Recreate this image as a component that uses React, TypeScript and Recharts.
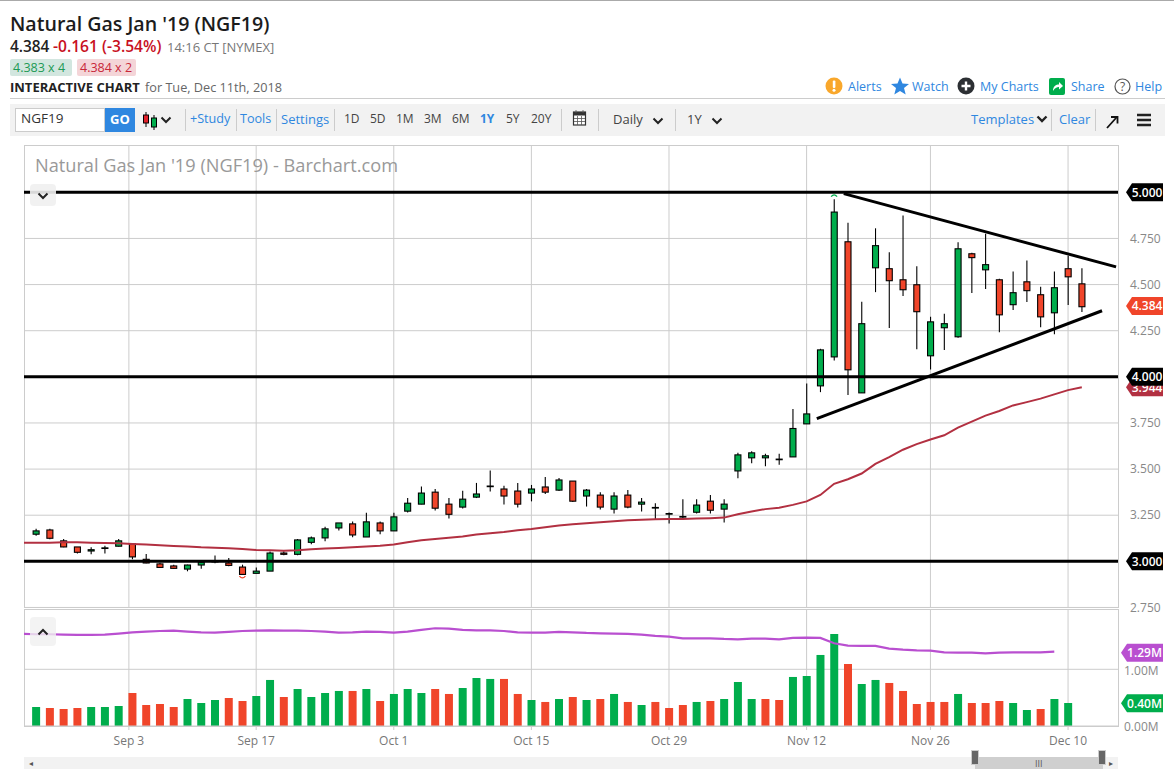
import React from 'react';
import {
  ComposedChart, Bar, Line, XAxis, YAxis, CartesianGrid, Cell, ReferenceLine, ReferenceDot,
} from 'recharts';

// bar index 0 is the first visible session, Dec 11 is index 76
const opens = [
  3.147, 3.170, 3.111, 3.078, 3.056, 3.072, 3.082, 3.094, 3.011, 2.986, 2.975, 2.958, 2.980, 3.000, 2.991, 2.969,
  2.935, 2.947, 3.045, 3.038, 3.103, 3.127, 3.181, 3.203, 3.132, 3.208, 3.165, 3.272, 3.310, 3.375, 3.310, 3.294,
  3.348, 3.408, 3.392, 3.381, 3.370, 3.403, 3.386, 3.435, 3.354, 3.359, 3.283, 3.359, 3.310, 3.292, 3.259, 3.243,
  3.266, 3.326, 3.283, 3.490, 3.561, 3.561, 3.554, 3.566, 3.745, 3.951, 4.108, 4.732, 3.913, 4.591, 4.586, 4.526,
  4.499, 4.114, 4.266, 4.217, 4.667, 4.580, 4.526, 4.391, 4.515, 4.445, 4.347, 4.586, 4.504,
];
const highs = [
  3.176, 3.176, 3.121, 3.078, 3.076, 3.085, 3.121, 3.100, 3.040, 2.993, 2.982, 2.982, 3.000, 3.031, 3.018, 2.982,
  2.966, 3.053, 3.054, 3.121, 3.134, 3.188, 3.208, 3.216, 3.264, 3.216, 3.264, 3.343, 3.405, 3.392, 3.343, 3.383,
  3.425, 3.492, 3.410, 3.425, 3.414, 3.457, 3.452, 3.435, 3.392, 3.375, 3.375, 3.386, 3.343, 3.315, 3.265, 3.337,
  3.337, 3.359, 3.337, 3.588, 3.597, 3.583, 3.583, 3.826, 3.964, 4.152, 4.962, 4.835, 4.407, 4.805, 4.675, 4.875,
  4.599, 4.325, 4.342, 4.729, 4.673, 4.776, 4.532, 4.571, 4.631, 4.488, 4.571, 4.656, 4.588,
];
const lows = [
  3.139, 3.120, 3.076, 3.043, 3.038, 3.043, 3.080, 3.011, 2.989, 2.966, 2.960, 2.946, 2.960, 2.989, 2.973, 2.929,
  2.935, 2.947, 3.033, 3.033, 3.092, 3.109, 3.167, 3.130, 3.132, 3.147, 3.165, 3.265, 3.310, 3.275, 3.232, 3.286,
  3.343, 3.379, 3.308, 3.292, 3.325, 3.365, 3.381, 3.321, 3.297, 3.281, 3.259, 3.288, 3.270, 3.228, 3.205, 3.228,
  3.259, 3.259, 3.210, 3.450, 3.532, 3.515, 3.523, 3.566, 3.745, 3.917, 4.089, 3.901, 3.913, 4.459, 4.264, 4.438,
  4.150, 4.040, 4.145, 4.212, 4.454, 4.476, 4.242, 4.362, 4.405, 4.269, 4.231, 4.389, 4.351,
];
const closes = [
  3.165, 3.125, 3.078, 3.049, 3.063, 3.073, 3.111, 3.024, 2.991, 2.967, 2.962, 2.980, 2.995, 3.000, 2.978, 2.929,
  2.947, 3.045, 3.038, 3.116, 3.127, 3.176, 3.208, 3.143, 3.214, 3.165, 3.241, 3.315, 3.370, 3.288, 3.255, 3.337,
  3.365, 3.408, 3.354, 3.310, 3.392, 3.375, 3.441, 3.326, 3.386, 3.294, 3.354, 3.294, 3.321, 3.292, 3.259, 3.243,
  3.305, 3.277, 3.310, 3.577, 3.588, 3.572, 3.554, 3.720, 3.799, 4.146, 4.893, 4.038, 4.288, 4.711, 4.521, 4.472,
  4.353, 4.298, 4.288, 4.694, 4.646, 4.608, 4.336, 4.456, 4.467, 4.325, 4.483, 4.542, 4.380,
];
// moving averages start one session before the first bar, at the left edge
const priceAverage = [
  3.100, 3.101, 3.101, 3.103, 3.103, 3.101, 3.100, 3.098, 3.094, 3.091, 3.087, 3.083, 3.080, 3.076, 3.074, 3.071,
  3.067, 3.062, 3.060, 3.058, 3.060, 3.065, 3.069, 3.072, 3.076, 3.080, 3.084, 3.091, 3.103, 3.114, 3.121, 3.128,
  3.135, 3.145, 3.152, 3.159, 3.168, 3.175, 3.185, 3.194, 3.201, 3.206, 3.212, 3.217, 3.223, 3.225, 3.228, 3.230,
  3.230, 3.232, 3.234, 3.237, 3.255, 3.270, 3.283, 3.290, 3.306, 3.325, 3.360, 3.420, 3.445, 3.476, 3.528, 3.565,
  3.605, 3.635, 3.660, 3.683, 3.725, 3.757, 3.790, 3.815, 3.845, 3.863, 3.882, 3.905, 3.928, 3.944,
];
const volumes = [
  0.335, 0.318, 0.300, 0.318, 0.335, 0.335, 0.353, 0.582, 0.370, 0.388, 0.335, 0.476, 0.406, 0.459, 0.494, 0.441,
  0.529, 0.812, 0.512, 0.653, 0.512, 0.582, 0.618, 0.618, 0.653, 0.441, 0.565, 0.653, 0.582, 0.653, 0.565, 0.670,
  0.847, 0.830, 0.830, 0.565, 0.459, 0.424, 0.476, 0.512, 0.459, 0.476, 0.565, 0.424, 0.370, 0.424, 0.318, 0.370,
  0.424, 0.441, 0.476, 0.776, 0.476, 0.476, 0.459, 0.865, 0.882, 1.253, 1.624, 1.094, 0.741, 0.812, 0.759, 0.618,
  0.388, 0.424, 0.424, 0.565, 0.406, 0.406, 0.441, 0.406, 0.282, 0.300, 0.476, 0.406,
];
const volumeUp = [
  1, 0, 0, 0, 1, 1, 1, 0, 0, 0, 0, 1, 1, 1, 0, 0, 1, 1, 0, 1, 1, 1, 1, 0, 1, 0, 1, 1, 1, 0, 0, 1,
  1, 1, 0, 0, 1, 0, 1, 0, 1, 0, 1, 0, 1, 0, 0, 0, 1, 0, 1, 1, 1, 0, 0, 1, 1, 1, 1, 0, 1, 1, 0, 0,
  0, 0, 0, 1, 0, 0, 0, 1, 1, 0, 1, 1,
];
const volumeAverage = [
  1.624, 1.618, 1.618, 1.612, 1.606, 1.606, 1.612, 1.630, 1.653, 1.665, 1.676, 1.682, 1.665, 1.653, 1.647, 1.659,
  1.676, 1.682, 1.688, 1.682, 1.682, 1.676, 1.665, 1.647, 1.653, 1.665, 1.659, 1.647, 1.665, 1.694, 1.724, 1.718,
  1.694, 1.688, 1.688, 1.676, 1.653, 1.647, 1.647, 1.659, 1.653, 1.641, 1.635, 1.629, 1.624, 1.612, 1.588, 1.576,
  1.547, 1.547, 1.547, 1.535, 1.529, 1.541, 1.541, 1.529, 1.553, 1.559, 1.553, 1.459, 1.418, 1.412, 1.412, 1.365,
  1.347, 1.335, 1.329, 1.300, 1.294, 1.294, 1.282, 1.294, 1.300, 1.300, 1.300, 1.312,
];

const dateTicks = [6.75, 16, 26, 36, 46, 56, 65, 75];
const dateLabels = ['Sep 3', 'Sep 17', 'Oct 1', 'Oct 15', 'Oct 29', 'Nov 12', 'Nov 26', 'Dec 10'];
const priceTicks = [2.75, 3.25, 3.5, 3.75, 4.25, 4.5, 4.75];
const priceGrid = [2.75, 3, 3.25, 3.5, 3.75, 4, 4.25, 4.5, 4.75, 5];
const supportLevels = [5, 4, 3];
const upperTrend = [{ x: 58.7, y: 4.993 }, { x: 78.49, y: 4.596 }];
const lowerTrend = [{ x: 56.74, y: 3.773 }, { x: 77.47, y: 4.358 }];
const lastPrice = 4.384;
const lastAverage = 3.944;
const lastVolumeAverage = 1.29;
const lastVolume = 0.4;
const xDomain = [-0.872, 78.63];

const FONT = '"Open Sans", sans-serif';
const GREEN = '#00ad4c';
const RED = '#f0452a';
const GRID = '#cccccc';
const BLUE = '#2f87e0';

const priceRows = priceAverage.map((average, i) => {
  const idx = i - 1;
  return {
    idx, average,
    range: idx >= 0 ? [lows[idx], highs[idx]] : null,
    open: opens[idx], close: closes[idx], high: highs[idx], low: lows[idx],
  };
});

const volumeRows = volumeAverage.map((average, i) => ({
  idx: i - 1,
  average,
  volume: i > 0 ? volumes[i - 1] : null,
})).concat([{ idx: 75, average: null as any, volume: volumes[75] }]);

function Candle(props: any) {
  const { x, y, width, height, payload } = props;
  if (!payload || payload.high == null) return null;
  const { open, close, high, low } = payload;
  const at = (v: number) => y + ((high - v) / (high - low)) * height;
  const cx = x + width / 2;
  const top = at(Math.max(open, close));
  const bottom = at(Math.min(open, close));
  return (
    <g>
      <line x1={cx} x2={cx} y1={y} y2={y + height} stroke="#000" strokeWidth={1.1} />
      <rect x={x} y={top} width={width} height={Math.max(bottom - top, 0.6)}
        fill={close >= open ? GREEN : RED} stroke="#000" strokeWidth={1.1} />
    </g>
  );
}

function ValueTag(props: any) {
  const { viewBox, text, fill, left = 1126 } = props;
  const y = viewBox.y;
  const d = `M${left} ${y} L${left + 6} ${y - 9} L1163 ${y - 9} L1163 ${y + 9} L${left + 6} ${y + 9} Z`;
  return (
    <g>
      <path d={d} fill={fill} />
      <text x={(left + 5 + 1163) / 2} y={y + 4.5} textAnchor="middle" fill="#fff"
        fontSize={12} fontWeight={600} fontFamily={FONT}>{text}</text>
    </g>
  );
}

function TopMark(props: any) {
  const { cx, cy } = props;
  return <path d={`M${cx - 3} ${cy + 1.5} Q${cx} ${cy - 2} ${cx + 3} ${cy + 1.5}`} fill="none" stroke={GREEN} strokeWidth={1.2} />;
}

function BottomMark(props: any) {
  const { cx, cy } = props;
  return <path d={`M${cx - 3} ${cy - 1.5} Q${cx} ${cy + 2} ${cx + 3} ${cy - 1.5}`} fill="none" stroke={RED} strokeWidth={1.2} />;
}

function T({ x, y, size = 13, color = '#555', weight = 400, children }: any) {
  return (
    <span style={{
      position: 'absolute', left: x, top: y, transform: 'translateY(-50%)', fontSize: size, color,
      fontWeight: weight, whiteSpace: 'nowrap', lineHeight: 1,
    }}>{children}</span>
  );
}

function Box({ x, y, w, h, style }: any) {
  return <div style={{ position: 'absolute', left: x, top: y, width: w, height: h, ...style }} />;
}

function Chevron({ x, y, up = false, w = 2 }: any) {
  return (
    <svg style={{ position: 'absolute', left: x, top: y }} width={12} height={8}>
      <path d={up ? 'M1.5 6.5 L6 2 L10.5 6.5' : 'M1.5 1.5 L6 6 L10.5 1.5'} fill="none" stroke="#222" strokeWidth={w} />
    </svg>
  );
}

function Icon({ x, y, w = 18, h = 18, children }: any) {
  return <svg style={{ position: 'absolute', left: x, top: y }} width={w} height={h}>{children}</svg>;
}

export default function App() {
  const separators = [185, 236, 276, 334, 561, 598, 675, 1051, 1095];
  const ranges = ['1D', '5D', '1M', '3M', '6M', '1Y', '5Y', '20Y'];
  const rangeX = [344, 370, 396, 424, 452, 480, 506, 531];

  return (
    <div style={{ position: 'absolute', left: 0, top: 0, width: 1174, height: 769, overflow: 'hidden', fontFamily: FONT, background: '#fff' }}>
      <Box x={0} y={0} w={1174} h={1} style={{ background: '#aaa' }} />

      <T x={10} y={24} size={19.6} color="#1c1c1c" weight={600}>Natural Gas Jan '19 (NGF19)</T>
      <T x={10} y={47} size={15.4} color="#222" weight={600}>4.384</T>
      <T x={53} y={47} size={15.6} color="#c8101e" weight={600}>-0.161 (-3.54%)</T>
      <T x={167} y={47} size={13} color="#777">14:16 CT [NYMEX]</T>
      <Box x={10} y={59} w={62} h={17} style={{ background: '#d2e6df', borderRadius: 2 }} />
      <T x={13} y={68} size={12.5} color="#1d9a55">4.383 x 4</T>
      <Box x={77} y={59} w={59} h={17} style={{ background: '#f4d5d8', borderRadius: 2 }} />
      <T x={80} y={68} size={12.5} color="#c8283a">4.384 x 2</T>
      <T x={10} y={87} size={13} color="#222" weight={700}>INTERACTIVE CHART</T>
      <T x={145} y={87} size={12.7} color="#666">for Tue, Dec 11th, 2018</T>

      <Icon x={825} y={77}>
        <circle cx={9} cy={9} r={8.5} fill="#f9a72b" />
        <rect x={7.8} y={3.5} width={2.6} height={7.5} rx={1} fill="#fff" />
        <circle cx={9} cy={13.3} r={1.5} fill="#fff" />
      </Icon>
      <T x={848} y={87} size={12.5} color={BLUE}>Alerts</T>
      <Icon x={891} y={77}>
        <path d="M9 0.5 L11.5 6.5 L18 7 L13 11 L14.7 17.5 L9 14 L3.3 17.5 L5 11 L0 7 L6.5 6.5 Z" fill={BLUE} />
      </Icon>
      <T x={912} y={87} size={12.5} color={BLUE}>Watch</T>
      <Icon x={957} y={77}>
        <circle cx={9} cy={9} r={8.5} fill="#2c2f33" />
        <path d="M9 4.5 V13.5 M4.5 9 H13.5" stroke="#fff" strokeWidth={2.4} />
      </Icon>
      <T x={980} y={87} size={12.5} color={BLUE}>My Charts</T>
      <Icon x={1049} y={78}>
        <rect x={0} y={0} width={16} height={17} rx={2} fill="#00ad4c" />
        <path d="M4 13 C4 8 7 6.5 10 6.5 V4 L14 8 L10 11.5 V9 C7.5 9 6 10 4 13 Z" fill="#fff" />
      </Icon>
      <T x={1071} y={87} size={12.5} color={BLUE}>Share</T>
      <Icon x={1114} y={78}>
        <circle cx={8.5} cy={8.5} r={7.5} fill="none" stroke="#555" strokeWidth={1.2} />
        <text x={8.5} y={13} textAnchor="middle" fontSize={12} fill="#555" fontFamily={FONT}>?</text>
      </Icon>
      <T x={1135} y={87} size={12.5} color={BLUE}>Help</T>

      <Box x={10} y={98} w={1155} h={1} style={{ background: '#ccc' }} />
      <Box x={10} y={104} w={1155} h={32} style={{ background: '#f2f2f2' }} />
      <Box x={15} y={108} w={90} h={24} style={{ background: '#fff', border: '1px solid #ccc', boxSizing: 'border-box' }} />
      <T x={21} y={119} size={13.5} color="#333">NGF19</T>
      <Box x={105} y={108} w={30} h={24} style={{ background: BLUE }} />
      <T x={110} y={119} size={13} color="#fff" weight={700}>GO</T>
      <Icon x={142} y={111} w={18} h={20}>
        <path d="M4 1 V16 M12 4 V19" stroke="#000" strokeWidth={1} />
        <rect x={1.5} y={4} width={5} height={8} fill="#e0202a" stroke="#000" />
        <rect x={9.5} y={7} width={5} height={9} fill={GREEN} stroke="#000" />
      </Icon>
      <Chevron x={160} y={116} />
      {separators.map((x) => <Box key={x} x={x} y={109} w={1} h={22} style={{ background: '#ccc' }} />)}
      <T x={190} y={119} size={12.6} color={BLUE}>+Study</T>
      <T x={240} y={119} size={12.6} color={BLUE}>Tools</T>
      <T x={281} y={119} size={13} color={BLUE}>Settings</T>
      {ranges.map((r, i) => (
        <T key={r} x={rangeX[i]} y={119} size={12} color={r === '1Y' ? BLUE : '#444'} weight={r === '1Y' ? 700 : 400}>{r}</T>
      ))}
      <Icon x={572} y={109} w={16} h={18}>
        <rect x={1.5} y={3} width={12} height={13} fill="#fff" stroke="#333" strokeWidth={1.2} />
        <rect x={1.5} y={3} width={12} height={3.5} fill="#333" />
        <path d="M4 1 V4 M11 1 V4 M2 9.5 H13 M2 12.5 H13 M5.5 7 V16 M9.5 7 V16" stroke="#555" strokeWidth={0.8} />
      </Icon>
      <T x={613} y={119} size={13} color="#444">Daily</T>
      <Chevron x={652} y={117} />
      <T x={687} y={119} size={13} color="#444">1Y</T>
      <Chevron x={711} y={117} />
      <T x={971} y={119} size={13} color={BLUE}>Templates</T>
      <Chevron x={1036} y={115} w={2.4} />
      <T x={1059} y={119} size={13} color={BLUE}>Clear</T>
      <Icon x={1105} y={114} w={16} h={16}>
        <path d="M2 14 L11 4 M6 3 H12.5 V9.5" fill="none" stroke="#111" strokeWidth={1.8} />
      </Icon>
      <Icon x={1136} y={112} w={16} h={16}>
        <path d="M1 3 H15 M1 8 H15 M1 13 H15" stroke="#222" strokeWidth={2.4} />
      </Icon>

      <Box x={24} y={145} w={1095} h={463} style={{ border: `1px solid ${GRID}`, boxSizing: 'border-box' }} />
      <div style={{ position: 'absolute', left: 0, top: 0 }}>
        <ComposedChart width={1174} height={620} data={priceRows} margin={{ top: 145, right: 0, bottom: 13, left: 24 }}>
          <CartesianGrid stroke={GRID} horizontalValues={priceGrid} verticalValues={dateTicks} />
          <XAxis dataKey="idx" type="number" domain={xDomain} allowDataOverflow hide height={0} />
          <YAxis orientation="right" type="number" width={56} domain={[2.7525, 5.2565]} allowDataOverflow ticks={priceTicks}
            tickFormatter={(v: number) => v.toFixed(3)} axisLine={false} tickLine={false} tickMargin={6}
            tick={{ fontSize: 12, fill: '#888', fontFamily: FONT, textAnchor: 'start' }} interval={0} />
          <Bar dataKey="range" barSize={6} shape={<Candle />} isAnimationActive={false} />
          <Line dataKey="average" stroke="#b23041" strokeWidth={2} dot={false} isAnimationActive={false} />
          <ReferenceLine y={lastAverage} stroke="none" label={<ValueTag text={lastAverage.toFixed(3)} fill="#b23041" />} />
          {supportLevels.map((level) => (
            <ReferenceLine key={level} y={level} stroke="#000" strokeWidth={3}
              label={<ValueTag text={level.toFixed(3)} fill="#000" />} />
          ))}
          <ReferenceLine y={lastPrice} stroke="none" label={<ValueTag text={lastPrice.toFixed(3)} fill={RED} />} />
          <ReferenceLine segment={upperTrend} stroke="#000" strokeWidth={3} />
          <ReferenceLine segment={lowerTrend} stroke="#000" strokeWidth={3} />
          <ReferenceDot x={58} y={4.985} r={3} shape={<TopMark />} />
          <ReferenceDot x={15} y={2.912} r={3} shape={<BottomMark />} />
        </ComposedChart>
      </div>

      <Box x={24} y={609} w={1095} h={118} style={{ border: `1px solid ${GRID}`, boxSizing: 'border-box' }} />
      <div style={{ position: 'absolute', left: 0, top: 600 }}>
        <ComposedChart width={1174} height={169} data={volumeRows} margin={{ top: 10, right: 0, bottom: 0, left: 24 }}>
          <CartesianGrid stroke={GRID} horizontalValues={[1]} verticalValues={dateTicks} />
          <XAxis dataKey="idx" type="number" domain={xDomain} allowDataOverflow ticks={dateTicks} interval={0} height={43}
            tickFormatter={(v: number) => dateLabels[dateTicks.indexOf(v)]} axisLine={{ stroke: GRID }}
            tickLine={{ stroke: GRID }} tickSize={4} tickMargin={6}
            tick={{ fontSize: 12, fill: '#777', fontFamily: FONT }} />
          <YAxis orientation="right" type="number" width={56} domain={[0, 2.046]} allowDataOverflow ticks={[0, 1]}
            tickFormatter={(v: number) => `${v.toFixed(2)}M`} axisLine={false} tickLine={false} tickMargin={0}
            tick={{ fontSize: 12, fill: '#888', fontFamily: FONT, textAnchor: 'start', dy: 1 }} interval={0} />
          <Bar dataKey="volume" barSize={8} isAnimationActive={false}>
            {volumeRows.map((row) => (
              <Cell key={row.idx} fill={row.idx >= 0 && volumeUp[row.idx] ? GREEN : RED} />
            ))}
          </Bar>
          <Line dataKey="average" stroke="#b94fd0" strokeWidth={2.2} dot={false} isAnimationActive={false} />
          <ReferenceLine y={lastVolumeAverage} stroke="none"
            label={<ValueTag text={`${lastVolumeAverage.toFixed(2)}M`} fill="#b94fd0" left={1121} />} />
          <ReferenceLine y={lastVolume} stroke="none"
            label={<ValueTag text={`${lastVolume.toFixed(2)}M`} fill={GREEN} left={1121} />} />
        </ComposedChart>
      </div>

      <T x={35} y={165} size={18.2} color="#999">Natural Gas Jan '19 (NGF19) - Barchart.com</T>
      <Box x={30} y={184} w={26} h={22} style={{ background: 'rgba(240,240,240,0.9)', borderRadius: 4 }} />
      <Chevron x={37} y={192} />
      <Box x={30} y={617} w={26} h={29} style={{ background: 'rgba(240,240,240,0.8)', borderRadius: 4 }} />
      <Chevron x={37} y={628} up />

      <Box x={24} y={757} w={1094} h={12} style={{ background: '#f2f2f2' }} />
      <Box x={975} y={757} w={128} h={12} style={{ background: '#cfcfcf' }} />
      <Box x={971} y={750} w={8} h={15} style={{ background: '#666', border: '1px solid #ccc', boxSizing: 'border-box' }} />
      <Box x={1098} y={750} w={8} h={15} style={{ background: '#666', border: '1px solid #ccc', boxSizing: 'border-box' }} />
      <T x={1035} y={763} size={9} color="#555">III</T>
      <T x={29} y={763} size={8} color="#555">◂</T>
      <T x={1109} y={763} size={8} color="#555">▸</T>
    </div>
  );
}
